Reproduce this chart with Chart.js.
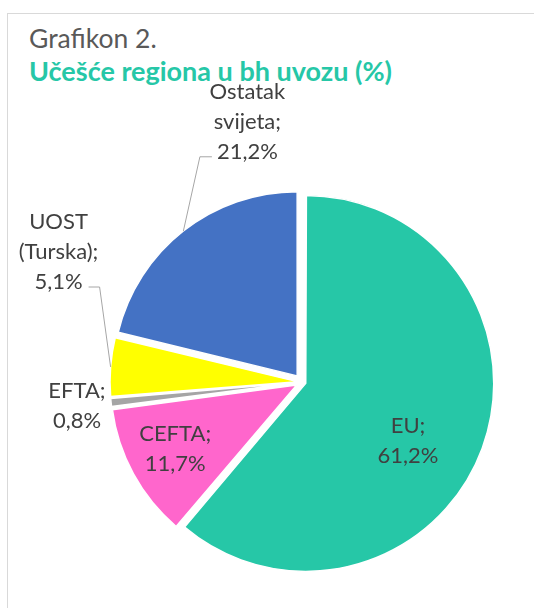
<!DOCTYPE html>
<html>
<head>
<meta charset="utf-8">
<script src="https://cdn.jsdelivr.net/npm/chart.js@4.4.1/dist/chart.umd.min.js"></script>
<style>
  body { margin: 0; background: #fff; }
  #wrap { position: relative; width: 534px; height: 608px; overflow: hidden; }
  #frame { position: absolute; left: 7px; top: 13px; width: 600px; height: 700px; border: 1px solid #d9d9d9; }
  .ttl { position: absolute; left: 29px; white-space: nowrap; font-family: Lato, sans-serif; line-height: 1.2; }
  #t1 { top: 23px; font-size: 26.5px; color: #595959; }
  #t2 { top: 55px; font-size: 27px; font-weight: bold; color: #26c7a7; }
  canvas { position: absolute; left: 0; top: 0; }
</style>
</head>
<body>
<div id="wrap">
  <div id="frame"></div>
  <div class="ttl" id="t1">Grafikon 2.</div>
  <div class="ttl" id="t2">Učešće regiona u bh uvozu (%)</div>
  <canvas id="chart1" width="534" height="608"></canvas>
</div>
<script>
  // podaci
  const regions = ['EU', 'CEFTA', 'EFTA', 'UOST (Turska)', 'Ostatak svijeta'];
  const shares = [61.2, 11.7, 0.8, 5.1, 21.2];
  const colors = ['#26c7a7', '#ff66cc', '#a5a5a5', '#ffff00', '#4472c4'];

  // gdje stoji natpis: zakret od sredine isjecka (stepeni), udaljenost (dio radijusa)
  const labelPlace = [
    { turn: 9, dist: 0.66, leader: false },
    { turn: 0.7, dist: 0.78, leader: false },
    { turn: 0, dist: 1.23, leader: false },
    { turn: 23.6, dist: 1.5, leader: true },
    { turn: 26.3, dist: 1.445, leader: true }
  ];

  const EXPLODE = 8;
  const LINE_H = 30;

  function fmt(v) {
    return v.toFixed(1).replace('.', ',') + '%';
  }

  const sliceLabels = {
    id: 'sliceLabels',
    afterDatasetsDraw(chart) {
      const ctx = chart.ctx;
      const arcs = chart.getDatasetMeta(0).data;
      ctx.save();
      ctx.font = '22px Lato';
      ctx.fillStyle = '#404040';
      ctx.textAlign = 'center';
      ctx.textBaseline = 'middle';
      arcs.forEach((arc, i) => {
        const mid = (arc.startAngle + arc.endAngle) / 2;
        const p = labelPlace[i];
        const R = arc.outerRadius;
        const a = mid + p.turn * Math.PI / 180;
        const cx = arc.x + Math.cos(a) * R * p.dist;
        const cy = arc.y + Math.sin(a) * R * p.dist;
        const words = regions[i].split(' ');
        words[words.length - 1] += ';';
        const lines = words.concat([fmt(shares[i])]);
        const top = cy - (lines.length - 1) * LINE_H / 2;
        lines.forEach((t, k) => ctx.fillText(t, cx, top + k * LINE_H));

        if (p.leader) {
          const ex = arc.x + Math.cos(mid) * (R + EXPLODE);
          const ey = arc.y + Math.sin(mid) * (R + EXPLODE);
          const w = ctx.measureText(lines[lines.length - 1]).width;
          const ly = top + (lines.length - 1) * LINE_H + 5;
          const onLeft = ex < cx - w / 2;
          const sx = onLeft ? cx - w / 2 - 5 : cx + w / 2 + 6;
          const bx = onLeft ? sx - 12 : sx + 11;
          ctx.strokeStyle = '#a6a6a6';
          ctx.lineWidth = 1;
          ctx.beginPath();
          ctx.moveTo(sx, ly);
          ctx.lineTo(bx, ly);
          ctx.lineTo(ex, ey);
          ctx.stroke();
        }
      });
      ctx.restore();
    }
  };

  const ctx = document.getElementById('chart1').getContext('2d');

  const chart1 = new Chart(ctx, {
    type: 'pie',
    data: {
      labels: regions,
      datasets: [{
        data: shares,
        backgroundColor: colors,
        borderColor: '#ffffff',
        borderWidth: 1.5,
        // chart.js pomjera isjecak razlicito zavisno od ugla, pa se ovdje izjednacava
        offset: (c) => {
          const data = c.dataset.data;
          const total = data.reduce((s, v) => s + v, 0);
          const circ = data[c.dataIndex] / total * 2 * Math.PI;
          const fix = 1 - Math.sin(Math.min(Math.PI, circ));
          return EXPLODE * 4 / (1 + fix);
        }
      }]
    },
    options: {
      responsive: false,
      animation: false,
      radius: 184,
      layout: {
        padding: { left: 70, right: 0, top: 156, bottom: 0 }
      },
      plugins: {
        legend: { display: false },
        tooltip: { enabled: false }
      }
    },
    plugins: [sliceLabels]
  });
</script>
</body>
</html>
